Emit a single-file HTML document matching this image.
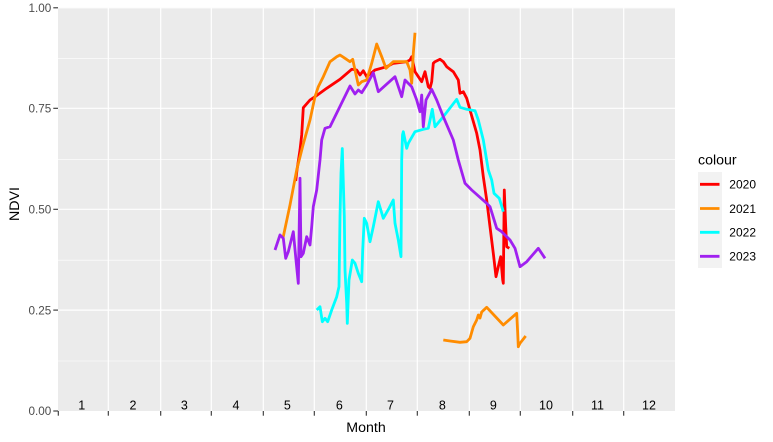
<!DOCTYPE html>
<html>
<head>
<meta charset="utf-8">
<style>
html,body{margin:0;padding:0;background:#fff;}
svg{display:block;}
text{font-family:"Liberation Sans",Arial,sans-serif;}
</style>
</head>
<body>
<svg width="773" height="442" viewBox="0 0 773 442" xmlns="http://www.w3.org/2000/svg">
<rect x="0" y="0" width="773" height="442" fill="#ffffff"/>
<!-- panel -->
<rect x="58" y="7.3" width="617" height="403.7" fill="#EBEBEB"/>
<!-- minor horizontal gridlines -->
<g stroke="#ffffff" stroke-width="0.6">
<line x1="58" x2="675" y1="58.3" y2="58.3"/>
<line x1="58" x2="675" y1="159.3" y2="159.3"/>
<line x1="58" x2="675" y1="260.2" y2="260.2"/>
<line x1="58" x2="675" y1="361" y2="361"/>
</g>
<!-- major gridlines -->
<g stroke="#ffffff" stroke-width="1.2">
<line x1="58" x2="675" y1="7.8" y2="7.8"/>
<line x1="58" x2="675" y1="108.3" y2="108.3"/>
<line x1="58" x2="675" y1="209.3" y2="209.3"/>
<line x1="58" x2="675" y1="310.1" y2="310.1"/>
<line x1="108.3" x2="108.3" y1="7.3" y2="411"/>
<line x1="160.7" x2="160.7" y1="7.3" y2="411"/>
<line x1="211.3" x2="211.3" y1="7.3" y2="411"/>
<line x1="263.3" x2="263.3" y1="7.3" y2="411"/>
<line x1="314.3" x2="314.3" y1="7.3" y2="411"/>
<line x1="366.3" x2="366.3" y1="7.3" y2="411"/>
<line x1="417.3" x2="417.3" y1="7.3" y2="411"/>
<line x1="469.3" x2="469.3" y1="7.3" y2="411"/>
<line x1="520.3" x2="520.3" y1="7.3" y2="411"/>
<line x1="572.7" x2="572.7" y1="7.3" y2="411"/>
<line x1="623.7" x2="623.7" y1="7.3" y2="411"/>
</g>
<!-- series -->
<g fill="none" stroke-width="2.8" stroke-linejoin="round" stroke-linecap="butt">
<path stroke="#FF0000" d="M295.7,181 L297,170 L300,150 L301.7,135 L303.3,107.7 L310,100 L315,96.7 L326.7,88.3 L340,79.3 L351.7,69.3 L356.7,70 L360,75 L363.3,70.7 L366.7,76.7 L375,70 L386.7,66.7 L393.3,63.3 L406.7,61.7 L410,60 L411.7,56.7 L415,71.7 L421.7,81.7 L425,71.7 L428.3,86.7 L430,88.3 L431.7,81.7 L433.3,63.3 L435,61.7 L440,59.3 L443.3,61.7 L446.7,66.7 L453.3,71.7 L458.3,80 L460,93.3 L463.3,91.7 L466.7,98.3 L470,110 L476.7,133.3 L480,150 L483.3,176.7 L486.7,200 L490,226.7 L493.3,253.3 L496,276.7 L498.3,266.7 L500.7,256.7 L502.7,280 L503.3,283.3 L504.3,190 L505.7,226.7 L506.7,246.7 L509.3,248.3"/>
<path stroke="#FF8C00" d="M283,238 L290,205 L296.7,170 L303,145 L310,120 L315,96.7 L318.3,86.7 L323.3,76.7 L330,61.7 L336.7,56.7 L340,55 L345,58.3 L350,61.7 L352.7,59.3 L355,70 L358.3,85 L361.7,81.7 L366.7,80 L371.7,63.3 L376.7,44 L381.7,56.7 L386,68.3 L393.3,61.7 L406.7,61.7 L410,70 L411.7,83.3 L413.3,53.3 L415,32.7"/>
<path stroke="#FF8C00" d="M443.3,340 L450,341 L460,342.3 L466.7,341.7 L470,338.3 L473.3,326.7 L476.7,320 L478.3,315 L480,318 L481.7,312 L486.7,307.3 L503.3,325 L516.7,313.3 L517.7,333 L518.3,346.7 L520,343.3 L525.7,336"/>
<path stroke="#00FFFF" d="M316.7,310 L320,306.7 L322.3,321.7 L325,318.3 L327.7,321.7 L331.7,310 L336.7,296.7 L339,286.7 L340,216.7 L341,173.3 L342.3,148.5 L344.3,216.7 L345,270 L346.7,303.3 L347.3,323.3 L349,280 L350.7,270 L352.3,260 L355,263.3 L358.3,273.3 L361.7,281.7 L362.7,250 L364.3,218.3 L366.7,223.3 L370,241.7 L373.3,226.7 L378.3,201.7 L383.3,218.3 L389,208.3 L393.3,200 L395,223.3 L398.3,240 L401,256.7 L401.7,160 L402.5,135 L403.3,131.7 L406.7,148.3 L408.3,143.3 L415,131.7 L423.3,129.3 L428.3,128.3 L432.3,109.3 L435,126.7 L443.3,116.7 L456.7,99.3 L460,107.3 L466.7,109.3 L475,110.7 L478.3,120 L483.3,140 L488.3,170 L491.7,180 L494,193.3 L499.3,198.3 L503.3,211.7"/>
<path stroke="#A020F0" d="M275,250 L280,235 L283.3,238.3 L285.7,258.3 L288.3,251.7 L293.3,231.7 L296,260 L298.3,283.3 L300,178.3 L301,256.7 L303.3,253.3 L306.7,236.7 L310,245 L311.7,226.7 L313.3,206.7 L316.7,190 L320,160 L321.7,140 L325,128.3 L330,126.7 L350,86 L355,94 L358.3,90 L361.7,92.7 L366.7,85 L373.3,72.7 L378.3,91.7 L395,76.7 L401.7,96.7 L405,80 L411.7,86.7 L416.7,100 L420,111.7 L421.7,95 L423.3,126.7 L426,100 L431.7,89.3 L436.7,100 L443.3,116.7 L453.3,140 L458.3,160 L465,183.3 L471.7,190 L486.7,203.3 L490,206.7 L496.7,228.3 L501.7,231.7 L510,240 L515,248.3 L520,266.7 L526.7,261.7 L538.3,248.3 L545,258.3"/>
</g>
<!-- month labels inside panel -->
<g font-size="12.5" fill="#000000" text-anchor="middle">
<text x="81.7" y="409.3">1</text>
<text x="133" y="409.3">2</text>
<text x="184.3" y="409.3">3</text>
<text x="236" y="409.3">4</text>
<text x="287.3" y="409.3">5</text>
<text x="339.3" y="409.3">6</text>
<text x="390.5" y="409.3">7</text>
<text x="442.3" y="409.3">8</text>
<text x="493.3" y="409.3">9</text>
<text x="546" y="409.3">10</text>
<text x="597.5" y="409.3">11</text>
<text x="649" y="409.3">12</text>
</g>
<!-- axis ticks -->
<g stroke="#333333" stroke-width="1.1">
<line x1="53.3" x2="58" y1="7.8" y2="7.8"/>
<line x1="53.3" x2="58" y1="108.3" y2="108.3"/>
<line x1="53.3" x2="58" y1="209.3" y2="209.3"/>
<line x1="53.3" x2="58" y1="310.1" y2="310.1"/>
<line x1="53.3" x2="58" y1="411" y2="411"/>
<line x1="58.3" x2="58.3" y1="411" y2="415.7"/>
<line x1="108.3" x2="108.3" y1="411" y2="415.7"/>
<line x1="160.7" x2="160.7" y1="411" y2="415.7"/>
<line x1="211.3" x2="211.3" y1="411" y2="415.7"/>
<line x1="263.3" x2="263.3" y1="411" y2="415.7"/>
<line x1="314.3" x2="314.3" y1="411" y2="415.7"/>
<line x1="366.3" x2="366.3" y1="411" y2="415.7"/>
<line x1="417.3" x2="417.3" y1="411" y2="415.7"/>
<line x1="469.3" x2="469.3" y1="411" y2="415.7"/>
<line x1="520.3" x2="520.3" y1="411" y2="415.7"/>
<line x1="572.7" x2="572.7" y1="411" y2="415.7"/>
<line x1="623.7" x2="623.7" y1="411" y2="415.7"/>
</g>
<!-- y axis labels -->
<g font-size="11.7" fill="#4D4D4D" text-anchor="end">
<text x="51.3" y="12">1.00</text>
<text x="51.3" y="112.5">0.75</text>
<text x="51.3" y="213.5">0.50</text>
<text x="51.3" y="314.3">0.25</text>
<text x="51.3" y="415.2">0.00</text>
</g>
<!-- axis titles -->
<text x="366" y="432" font-size="14.2" fill="#000000" text-anchor="middle">Month</text>
<text transform="translate(19,204) rotate(-90)" font-size="14.2" fill="#000000" text-anchor="middle">NDVI</text>
<!-- legend -->
<text x="698" y="164.5" font-size="14.2" fill="#000000">colour</text>
<rect x="698" y="172" width="24" height="96" fill="#F2F2F2"/>
<g stroke-width="2.8">
<line x1="700" x2="719.5" y1="184.3" y2="184.3" stroke="#FF0000"/>
<line x1="700" x2="719.5" y1="208.5" y2="208.5" stroke="#FF8C00"/>
<line x1="700" x2="719.5" y1="232.3" y2="232.3" stroke="#00FFFF"/>
<line x1="700" x2="719.5" y1="256.3" y2="256.3" stroke="#A020F0"/>
</g>
<g font-size="12" fill="#000000">
<text x="729.3" y="188.7">2020</text>
<text x="729.3" y="212.8">2021</text>
<text x="729.3" y="236.7">2022</text>
<text x="729.3" y="260.7">2023</text>
</g>
</svg>
</body>
</html>
